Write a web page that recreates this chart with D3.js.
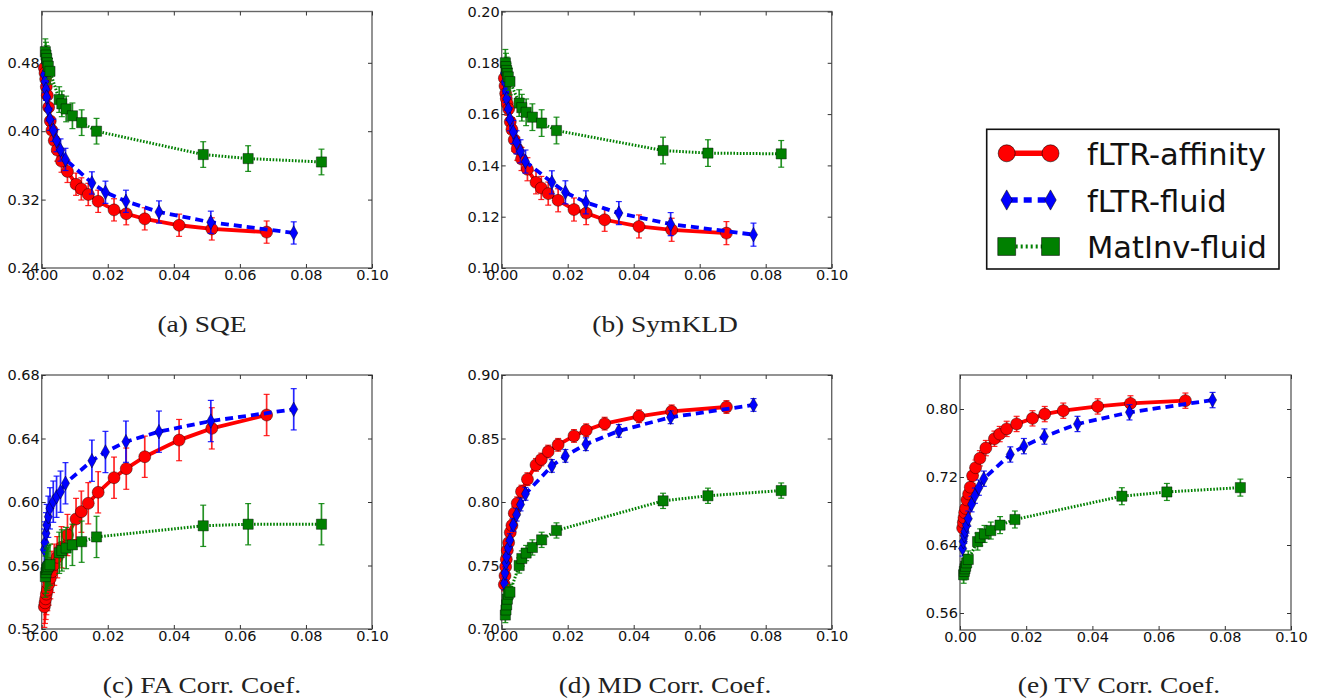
<!DOCTYPE html>
<html>
<head>
<meta charset="utf-8">
<script src="https://cdn.jsdelivr.net/npm/d3@7"></script>
<style>
  html, body { margin: 0; padding: 0; background: #fff; }
  svg { display: block; }
</style>
</head>
<body>
<svg id="chart" width="1319" height="699"></svg>
<script>
// ---------------- DATA ----------------
const seriesNames = ["fLTR-affinity", "fLTR-fluid", "MatInv-fluid"];

// x positions (shared across panels)
const xAffinity = [0.0008, 0.0010, 0.0012, 0.0014, 0.0017, 0.0021, 0.0026, 0.0031, 0.0038, 0.0047, 0.0060, 0.0078, 0.0104, 0.0120, 0.0141, 0.0171, 0.0219, 0.0256, 0.0312, 0.0416, 0.0515, 0.0681];
const xFluid    = [0.0008, 0.0010, 0.0013, 0.0015, 0.0020, 0.0025, 0.0035, 0.0045, 0.0057, 0.0072, 0.0152, 0.0193, 0.0255, 0.0355, 0.0512, 0.0763];
const xMatInv   = [0.0011, 0.0013, 0.0015, 0.0017, 0.0020, 0.0025, 0.0053, 0.0061, 0.0074, 0.0093, 0.0121, 0.0166, 0.0489, 0.0625, 0.0847];

// (a) SQE
const sqeAffinity = [0.474, 0.468, 0.461, 0.452, 0.442, 0.428, 0.412, 0.401, 0.389, 0.378, 0.365, 0.353, 0.338, 0.3325, 0.326, 0.318, 0.308, 0.3035, 0.2975, 0.290, 0.2857, 0.282];
const sqeFluid    = [0.466, 0.458, 0.449, 0.440, 0.425, 0.414, 0.401, 0.389, 0.378, 0.367, 0.3395, 0.3286, 0.318, 0.3055, 0.2935, 0.281];
const sqeMatInv   = [0.493, 0.489, 0.485, 0.480, 0.476, 0.470, 0.437, 0.432, 0.426, 0.418, 0.410, 0.400, 0.3727, 0.368, 0.364];
const sqeErr      = [0.013, 0.013, 0.015];

// (b) SymKLD
const kldAffinity = [0.174, 0.171, 0.168, 0.166, 0.164, 0.162, 0.157, 0.154, 0.150, 0.1465, 0.1425, 0.1385, 0.1334, 0.1312, 0.129, 0.1264, 0.1228, 0.1214, 0.1188, 0.1162, 0.1149, 0.1136];
const kldFluid    = [0.176, 0.1725, 0.169, 0.166, 0.162, 0.158, 0.153, 0.149, 0.1455, 0.1415, 0.1334, 0.1295, 0.1256, 0.1214, 0.1171, 0.113];
const kldMatInv   = [0.180, 0.1785, 0.177, 0.1758, 0.1745, 0.1727, 0.1643, 0.1625, 0.1607, 0.1588, 0.1565, 0.1536, 0.1458, 0.1448, 0.1445];
const kldErr      = [0.0045, 0.0045, 0.0052];

// (c) FA Corr. Coef.
const faAffinity = [0.534, 0.5365, 0.539, 0.542, 0.5445, 0.548, 0.552, 0.556, 0.5605, 0.5652, 0.5715, 0.5792, 0.5893, 0.5939, 0.5992, 0.6061, 0.6153, 0.621, 0.6285, 0.639, 0.6464, 0.6548];
const faFluid    = [0.570, 0.5745, 0.5803, 0.5855, 0.5907, 0.596, 0.6002, 0.6033, 0.6065, 0.6118, 0.626, 0.6315, 0.638, 0.6443, 0.651, 0.6584];
const faMatInv   = [0.553, 0.5555, 0.5575, 0.5585, 0.5595, 0.5605, 0.568, 0.5695, 0.571, 0.573, 0.575, 0.578, 0.585, 0.586, 0.586];
const faErr      = [0.013, 0.013, 0.013];

// (d) MD Corr. Coef.
const mdAffinity = [0.735, 0.742, 0.749, 0.755, 0.762, 0.768, 0.776, 0.7815, 0.7912, 0.799, 0.8082, 0.818, 0.8292, 0.8335, 0.8397, 0.845, 0.852, 0.8565, 0.8617, 0.8675, 0.8714, 0.8748];
const mdFluid    = [0.736, 0.744, 0.752, 0.757, 0.764, 0.770, 0.782, 0.790, 0.798, 0.8064, 0.8284, 0.8363, 0.8455, 0.856, 0.8667, 0.8764];
const mdMatInv   = [0.711, 0.715, 0.719, 0.7235, 0.7275, 0.729, 0.750, 0.7555, 0.7598, 0.7642, 0.7702, 0.7776, 0.8009, 0.8049, 0.809];
const mdErr      = [0.005, 0.005, 0.006];

// (e) TV Corr. Coef.
const tvAffinity = [0.660, 0.6665, 0.672, 0.678, 0.683, 0.693, 0.700, 0.708, 0.7215, 0.731, 0.742, 0.754, 0.765, 0.7705, 0.7766, 0.7824, 0.789, 0.794, 0.798, 0.803, 0.8066, 0.8098];
const tvFluid    = [0.636, 0.644, 0.651, 0.656, 0.663, 0.671, 0.688, 0.698, 0.7075, 0.718, 0.7465, 0.7563, 0.7676, 0.7824, 0.7961, 0.8105];
const tvMatInv   = [0.605, 0.609, 0.612, 0.615, 0.619, 0.623, 0.644, 0.649, 0.653, 0.657, 0.6634, 0.670, 0.6974, 0.7024, 0.7075];
const tvErr      = [0.009, 0.009, 0.010];

// tick labels
const xTicks = [0.00, 0.02, 0.04, 0.06, 0.08, 0.10];
const sqeTicks = [0.24, 0.32, 0.40, 0.48];
const kldTicks = [0.10, 0.12, 0.14, 0.16, 0.18, 0.20];
const faTicks  = [0.52, 0.56, 0.60, 0.64, 0.68];
const mdTicks  = [0.70, 0.75, 0.80, 0.85, 0.90];
const tvTicks  = [0.56, 0.64, 0.72, 0.80];

const captions = ["(a) SQE", "(b) SymKLD", "(c) FA Corr. Coef.", "(d) MD Corr. Coef.", "(e) TV Corr. Coef."];

// ---------------- LAYOUT / STYLE ----------------
const colors = ["#ff0000", "#0000ff", "#008000"];
const panels = [
  { box: [41.7, 372, 11.5, 268], yDom: [0.24, 0.54], yTicks: sqeTicks, ys: [sqeAffinity, sqeFluid, sqeMatInv], err: sqeErr, cap: captions[0], capX: 202, capY: 331.5 },
  { box: [501.7, 831.7, 11.5, 268], yDom: [0.10, 0.20], yTicks: kldTicks, ys: [kldAffinity, kldFluid, kldMatInv], err: kldErr, cap: captions[1], capX: 665, capY: 331.5 },
  { box: [41.7, 372, 375, 629], yDom: [0.52, 0.68], yTicks: faTicks, ys: [faAffinity, faFluid, faMatInv], err: faErr, cap: captions[2], capX: 202, capY: 692.5 },
  { box: [501.7, 831.7, 375, 629], yDom: [0.70, 0.90], yTicks: mdTicks, ys: [mdAffinity, mdFluid, mdMatInv], err: mdErr, cap: captions[3], capX: 665, capY: 692.5 },
  { box: [960, 1291, 375, 630], yDom: [0.54, 0.84], yTicks: tvTicks, ys: [tvAffinity, tvFluid, tvMatInv], err: tvErr, cap: captions[4], capX: 1119, capY: 692.5 }
];
const xsBySeries = [xAffinity, xFluid, xMatInv];

const svg = d3.select("#chart");

function markerPath(kind, s) {
  if (kind === 0) { // circle radius s
    return d3.symbol(d3.symbolCircle, Math.PI * s * s)();
  } else if (kind === 1) { // thin diamond
    const w = s * 0.62, h = s * 1.1;
    return `M0,${-h}L${w},0L0,${h}L${-w},0Z`;
  } else { // square
    const a = s * 0.85;
    return `M${-a},${-a}H${a}V${a}H${-a}Z`;
  }
}
const markerSize = [6, 6.6, 6];
const lineStyle = [
  { w: 3.8, dash: null },
  { w: 3.8, dash: "8,5" },
  { w: 3, dash: "1.6,1.6" }
];

panels.forEach((p, pi) => {
  const [l, r, t, b] = p.box;
  const x = d3.scaleLinear().domain([0, 0.10]).range([l, r]);
  const y = d3.scaleLinear().domain(p.yDom).range([b, t]);
  const g = svg.append("g");

  // frame
  g.append("rect").attr("x", l).attr("y", t).attr("width", r - l).attr("height", b - t)
    .attr("fill", "none").attr("stroke", "#666").attr("stroke-width", 1.4);

  // axes (ticks inside)
  const fontT = "DejaVu Sans, sans-serif";
  const xb = g.append("g").attr("transform", `translate(0,${b})`)
    .call(d3.axisBottom(x).tickValues(xTicks).tickFormat(d3.format(".2f")).tickSizeInner(-4).tickSizeOuter(0).tickPadding(6));
  const xt = g.append("g").attr("transform", `translate(0,${t})`)
    .call(d3.axisTop(x).tickValues(xTicks).tickFormat("").tickSizeInner(-4).tickSizeOuter(0));
  const yl = g.append("g").attr("transform", `translate(${l},0)`)
    .call(d3.axisLeft(y).tickValues(p.yTicks).tickFormat(d3.format(".2f")).tickSizeInner(-4).tickSizeOuter(0).tickPadding(2));
  const yr = g.append("g").attr("transform", `translate(${r},0)`)
    .call(d3.axisRight(y).tickValues(p.yTicks).tickFormat("").tickSizeInner(-4).tickSizeOuter(0));
  [xb, xt, yl, yr].forEach(a => {
    a.select(".domain").remove();
    a.selectAll(".tick line").attr("stroke", "#333").attr("stroke-width", 1);
    a.selectAll(".tick text").attr("font-family", fontT).attr("font-size", 14.5).attr("fill", "#111");
  });
  xb.selectAll(".tick text").attr("dy", "0.71em").attr("y", 1.5);

  // series: red, blue, green
  [0, 1, 2].forEach(si => {
    const xs = xsBySeries[si];
    const ys = p.ys[si];
    const pts = xs.map((xv, i) => ({ x: xv, y: ys[i] }));
    const e = p.err[si];
    const sg = g.append("g");
    // error bars
    sg.selectAll("line.eb").data(pts).join("line").attr("class", "eb")
      .attr("x1", d => x(d.x)).attr("x2", d => x(d.x))
      .attr("y1", d => y(d.y - e)).attr("y2", d => y(d.y + e))
      .attr("stroke", colors[si]).attr("stroke-width", 1.7).attr("opacity", 0.85);
    ["-", "+"].forEach(sgn => {
      sg.selectAll("line.cap" + (sgn === "-" ? "lo" : "hi")).data(pts).join("line")
        .attr("class", "cap" + (sgn === "-" ? "lo" : "hi"))
        .attr("x1", d => x(d.x) - 3).attr("x2", d => x(d.x) + 3)
        .attr("y1", d => y(sgn === "-" ? d.y - e : d.y + e)).attr("y2", d => y(sgn === "-" ? d.y - e : d.y + e))
        .attr("stroke", colors[si]).attr("stroke-width", 1.2).attr("opacity", 0.85);
    });
    // line
    const ln = d3.line().x(d => x(d.x)).y(d => y(d.y));
    const path = sg.append("path").attr("d", ln(pts)).attr("fill", "none")
      .attr("stroke", colors[si]).attr("stroke-width", lineStyle[si].w);
    if (lineStyle[si].dash) path.attr("stroke-dasharray", lineStyle[si].dash);
    // markers
    sg.selectAll("path.mk").data(pts).join("path").attr("class", "mk")
      .attr("d", markerPath(si, markerSize[si]))
      .attr("transform", d => `translate(${x(d.x)},${y(d.y)})`)
      .attr("fill", colors[si]).attr("stroke", "#000").attr("stroke-width", 0.6).attr("stroke-opacity", 0.7);
  });

  // caption
  svg.append("text").attr("transform", `translate(${p.capX},${p.capY}) scale(1.22,1)`)
    .attr("text-anchor", "middle").attr("font-family", "Liberation Serif, Times New Roman, serif")
    .attr("font-size", 22.5).attr("fill", "#222").attr("xml:space", "preserve").text(p.cap);
});

// ---------------- LEGEND ----------------
const lg = svg.append("g");
lg.append("rect").attr("x", 986.7).attr("y", 129.3).attr("width", 292.3).attr("height", 139.7)
  .attr("fill", "#fff").attr("stroke", "#111").attr("stroke-width", 1.6);
const legendRowY = [153.3, 200, 246.5];
const legendX = [1006.7, 1050.5];
seriesNames.forEach((name, si) => {
  const yy = legendRowY[si];
  const ln = lg.append("line").attr("x1", legendX[0]).attr("x2", legendX[1]).attr("y1", yy).attr("y2", yy)
    .attr("stroke", colors[si]).attr("stroke-width", si === 2 ? 4 : 5.5);
  if (si === 1) ln.attr("stroke-dasharray", "8,6").attr("stroke-dashoffset", -3);
  if (si === 2) ln.attr("stroke-dasharray", "2,3").attr("stroke-dashoffset", -14);
  legendX.forEach(lx => {
    lg.append("path").attr("d", markerPath(si, si === 0 ? 8.5 : (si === 1 ? 9.2 : 10.5)))
      .attr("transform", `translate(${lx},${yy})`)
      .attr("fill", colors[si]).attr("stroke", "#000").attr("stroke-width", 0.8).attr("stroke-opacity", 0.7);
  });
  lg.append("text").attr("x", 1087).attr("y", yy + 11.5)
    .attr("font-family", "DejaVu Sans, sans-serif").attr("font-size", 30.5).attr("fill", "#111")
    .attr("textLength", null)
    .text(name);
});
</script>
</body>
</html>
